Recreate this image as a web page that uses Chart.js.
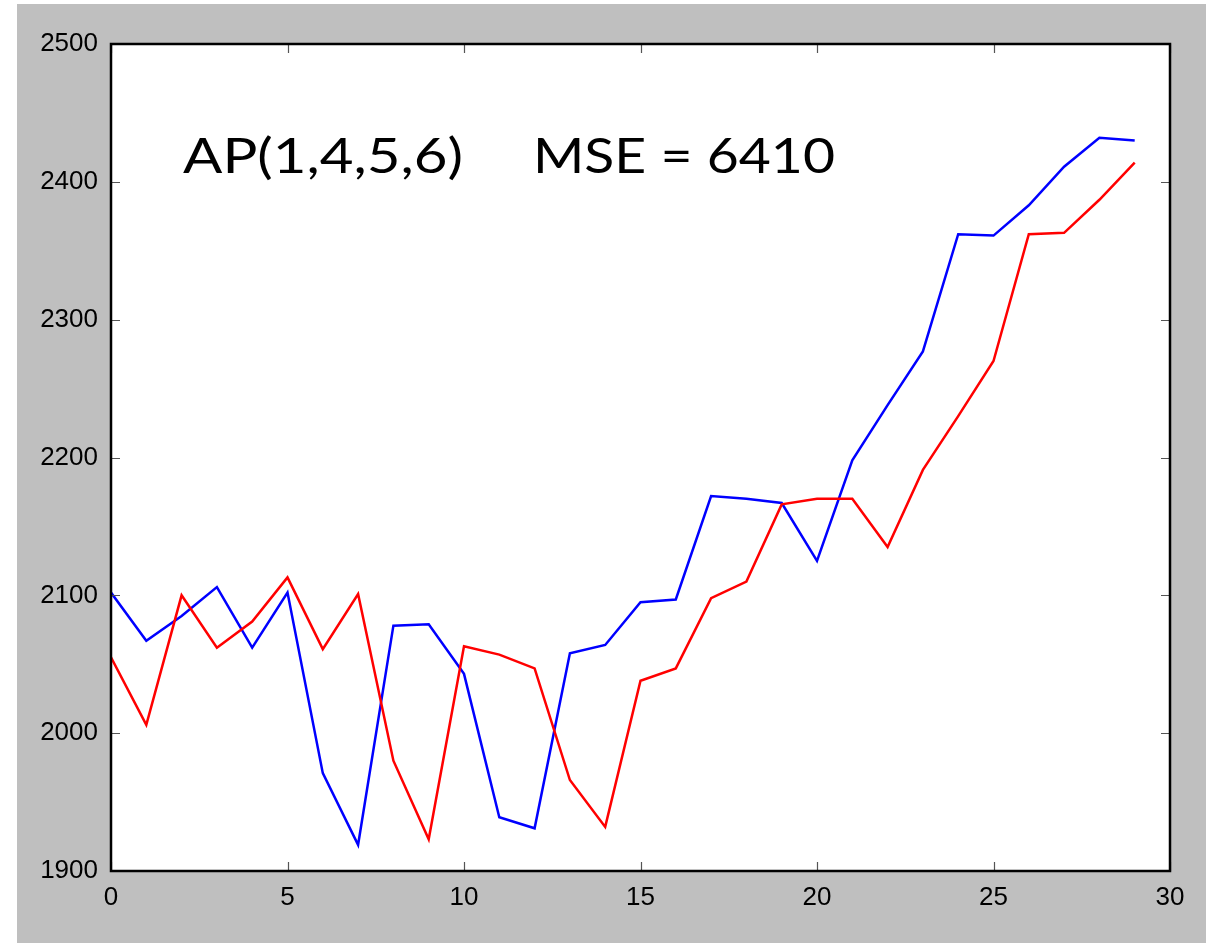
<!DOCTYPE html>
<html>
<head>
<meta charset="utf-8">
<script src="https://cdn.jsdelivr.net/npm/chart.js@4"></script>
<style>
  html, body { margin: 0; padding: 0; background: #fff; }
  #chart1 { display: block; }
</style>
</head>
<body>
<canvas id="chart1" width="1206" height="943"></canvas>
<script>
// data
const xs = [0,1,2,3,4,5,6,7,8,9,10,11,12,13,14,15,16,17,18,19,20,21,22,23,24,25,26,27,28,29];
const actual = [2102,2067,2085,2106,2062,2102,1971,1919,2078,2079,2043,1939,1931,2058,2064,2095,2097,2172,2170,2167,2125,2198,2238,2277,2362,2361,2383,2411,2432,2430];
const predicted = [2055,2006,2100,2062,2081,2113,2061,2101,1980,1923,2063,2057,2047,1966,1932,2038,2047,2098,2110,2166,2170,2170,2135,2191,2230,2270,2362,2363,2387,2414];
const xTicks = [0,5,10,15,20,25,30];
const yTicks = [1900,2000,2100,2200,2300,2400,2500];
const label1 = 'AP(1,4,5,6)';
const label2 = 'MSE = 6410';

// draw text stretched to a given width (the original uses a wider face)
function wideText(c, txt, x, y, w) {
  const m = c.measureText(txt).width;
  c.save();
  c.translate(x, y);
  c.scale(w / m, 1);
  c.fillText(txt, 0, 0);
  c.restore();
}

const frame = {
  id: 'frame',
  beforeDraw(chart) {
    const c = chart.ctx, a = chart.chartArea;
    c.save();
    c.fillStyle = '#bfbfbf';
    c.fillRect(17, 4, chart.width - 17, chart.height - 4);
    c.fillStyle = '#fff';
    c.fillRect(a.left, a.top, a.right - a.left, a.bottom - a.top);
    c.restore();
  },
  afterDraw(chart) {
    const c = chart.ctx, a = chart.chartArea;
    const x = chart.scales.x, y = chart.scales.y;
    c.save();
    // inward ticks on all four sides
    c.strokeStyle = '#555';
    c.lineWidth = 1.2;
    c.beginPath();
    xTicks.forEach(v => {
      const px = Math.round(x.getPixelForValue(v)) + 0.5;
      c.moveTo(px, a.bottom); c.lineTo(px, a.bottom - 9);
      c.moveTo(px, a.top); c.lineTo(px, a.top + 9);
    });
    yTicks.forEach(v => {
      const py = Math.round(y.getPixelForValue(v)) + 0.5;
      c.moveTo(a.left, py); c.lineTo(a.left + 9, py);
      c.moveTo(a.right, py); c.lineTo(a.right - 9, py);
    });
    c.stroke();
    // frame
    c.strokeStyle = '#000';
    c.lineWidth = 2.5;
    c.strokeRect(a.left, a.top, a.right - a.left, a.bottom - a.top);
    // annotation text
    c.fillStyle = '#000';
    c.font = '49px Lato';
    c.textBaseline = 'alphabetic';
    wideText(c, label1, 183, 173, 280);
    wideText(c, label2, 533, 173, 302);
    c.restore();
  }
};

new Chart(document.getElementById('chart1'), {
  type: 'line',
  data: {
    datasets: [{
      label: 'predicted',
      data: xs.map((x, i) => ({x: x, y: predicted[i]})),
      borderColor: '#ff0000',
      borderWidth: 2.5,
      pointRadius: 0,
      tension: 0,
      order: 0
    }, {
      label: 'actual',
      data: xs.map((x, i) => ({x: x, y: actual[i]})),
      borderColor: '#0000ff',
      borderWidth: 2.5,
      pointRadius: 0,
      tension: 0,
      order: 1
    }]
  },
  options: {
    responsive: false,
    animation: false,
    layout: { padding: { left: 0, top: 44, right: 36, bottom: 0 } },
    plugins: { legend: { display: false }, tooltip: { enabled: false } },
    scales: {
      x: {
        type: 'linear',
        min: 0, max: 30,
        afterBuildTicks: s => { s.ticks = xTicks.map(v => ({value: v})); },
        afterFit: s => { s.height = 72; },
        grid: { display: false },
        border: { display: false },
        ticks: { color: '#000', font: { family: 'Liberation Sans', size: 26 }, padding: 3,
                 maxRotation: 0, autoSkip: false, callback: v => String(v) }
      },
      y: {
        min: 1900, max: 2500,
        afterBuildTicks: s => { s.ticks = yTicks.map(v => ({value: v})); },
        afterFit: s => { s.width = 111; },
        grid: { display: false },
        border: { display: false },
        ticks: { color: '#000', font: { family: 'Liberation Sans', size: 26 }, padding: 5,
                 autoSkip: false, callback: v => String(v) }
      }
    }
  },
  plugins: [frame]
});
</script>
</body>
</html>
